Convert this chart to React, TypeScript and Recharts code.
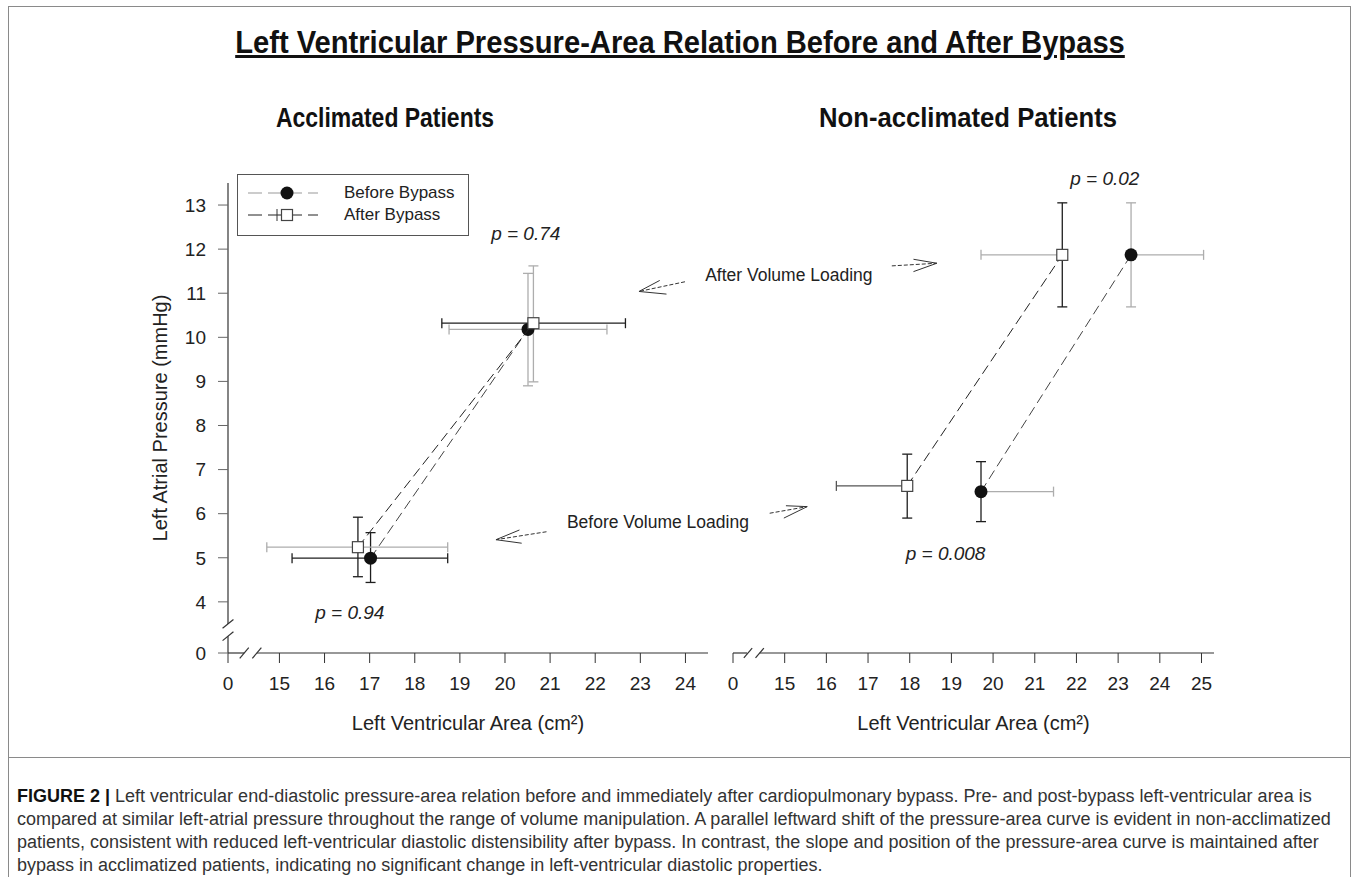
import React from "react";
import {
  ScatterChart,
  Scatter,
  XAxis,
  YAxis,
  ErrorBar,
  ReferenceLine,
  ReferenceDot,
  Legend,
} from "recharts";

// ---- data (left ventricular area cm², left atrial pressure mmHg) ----
// error arrays are [minus, plus]
const acclimatedBefore = [
  { area: 17.02, pressure: 4.99, areaErr: [1.74, 1.71], pressureErr: [0.55, 0.58] },
  { area: 20.51, pressure: 10.18, areaErr: [1.75, 1.75], pressureErr: [1.28, 1.27] },
];
const acclimatedAfter = [
  { area: 16.74, pressure: 5.24, areaErr: [2.02, 1.99], pressureErr: [0.67, 0.68] },
  { area: 20.63, pressure: 10.32, areaErr: [2.03, 2.04], pressureErr: [1.33, 1.3] },
];
const nonAcclimatedBefore = [
  { area: 19.71, pressure: 6.5, areaErr: [0, 1.74], pressureErr: [0.68, 0.68] },
  { area: 23.31, pressure: 11.87, areaErr: [0, 1.74], pressureErr: [1.18, 1.18] },
];
const nonAcclimatedAfter = [
  { area: 17.94, pressure: 6.63, areaErr: [1.7, 0], pressureErr: [0.73, 0.72] },
  { area: 21.66, pressure: 11.87, areaErr: [1.95, 0], pressureErr: [1.18, 1.18] },
];

const yTicks = [0, 4, 5, 6, 7, 8, 9, 10, 11, 12, 13];
const leftXTicks = [0, 15, 16, 17, 18, 19, 20, 21, 22, 23, 24];
const rightXTicks = [0, 15, 16, 17, 18, 19, 20, 21, 22, 23, 24, 25];

const leftPValues = [
  { text: "p = 0.74", area: 20.46, pressure: 12.37 },
  { text: "p = 0.94", area: 16.56, pressure: 3.77 },
];
const rightPValues = [
  { text: "p = 0.02", area: 22.68, pressure: 13.61 },
  { text: "p = 0.008", area: 18.86, pressure: 5.11 },
];
const leftNotes = [{ text: "Before Volume Loading", area: 23.39, pressure: 5.81 }];
const rightNotes = [{ text: "After Volume Loading", area: 15.1, pressure: 11.41 }];

// arrows: tail, tip, two barb ends  [area, pressure]
const leftArrows = [
  { tail: [23.99, 11.26], tip: [22.97, 11.04], barbs: [[23.43, 11.29], [23.58, 10.98]] },
  { tail: [20.92, 5.59], tip: [19.8, 5.41], barbs: [[20.32, 5.63], [20.37, 5.33]] },
];
const rightArrows = [
  { tail: [17.57, 11.62], tip: [18.65, 11.68], barbs: [[18.09, 11.77], [18.09, 11.49]] },
  { tail: [14.64, 6.01], tip: [15.54, 6.16], barbs: [[15.03, 6.18], [14.98, 5.9]] },
];

const legendItems = ["Before Bypass", "After Bypass"];

const captionLines = [
  "Left ventricular end-diastolic pressure-area relation before and immediately after cardiopulmonary bypass. Pre- and post-bypass left-ventricular area is",
  "compared at similar left-atrial pressure throughout the range of volume manipulation. A parallel leftward shift of the pressure-area curve is evident in non-acclimatized",
  "patients, consistent with reduced left-ventricular diastolic distensibility after bypass. In contrast, the slope and position of the pressure-area curve is maintained after",
  "bypass in acclimatized patients, indicating no significant change in left-ventricular diastolic properties.",
];

// ---- styles ----
const FONT = '"Liberation Sans", Arial, Helvetica, sans-serif';
const INK = "#222";
const AXIS = "#333";
const DARK = "#1e1e1e";
const MID = "#555";
const LIGHT = "#adadad";

// error bar colours per point  (x = horizontal bar, y = vertical bar)
const accBeforeBars = [{ x: DARK, y: DARK }, { x: LIGHT, y: LIGHT }];
const accAfterBars = [{ x: LIGHT, y: DARK }, { x: DARK, y: LIGHT }];
const nonBeforeBars = [{ x: LIGHT, y: DARK }, { x: LIGHT, y: LIGHT }];
const nonAfterBars = [{ x: MID, y: DARK }, { x: LIGHT, y: DARK }];

const Y_DOMAIN: [number, number] = [2.84, 13.5];
const LEFT_X: [number, number] = [13.86, 24.5];
const RIGHT_X: [number, number] = [13.76, 25.3];

const place = (t: number, zeroAt: number) => (t === 0 ? zeroAt : t);

const Dot = (p: any) => <circle cx={p.cx} cy={p.cy} r={6.5} fill="#111" />;
const Box = (p: any) => (
  <rect x={p.cx - 5.5} y={p.cy - 5.5} width={11} height={11} fill="#fff" stroke="#444" strokeWidth={1.2} />
);
const Nothing = () => <g />;

function errorSeries(points: any[], colors: { x: string; y: string }[], id: string) {
  return points.map((pt, i) => (
    <Scatter key={`${id}-${i}`} data={[pt]} shape={Nothing} legendType="none" isAnimationActive={false}>
      <ErrorBar dataKey="areaErr" direction="x" stroke={colors[i].x} strokeWidth={1.3} width={5} />
      <ErrorBar dataKey="pressureErr" direction="y" stroke={colors[i].y} strokeWidth={1.3} width={5} />
    </Scatter>
  ));
}

function seg(id: string, a: number[], b: number[], props: any = {}) {
  return (
    <ReferenceLine
      key={id}
      segment={[{ x: a[0], y: a[1] }, { x: b[0], y: b[1] }]}
      stroke={AXIS}
      strokeWidth={1.2}
      ifOverflow="visible"
      {...props}
    />
  );
}

function arrows(list: any[], id: string) {
  return list.flatMap((a, i) => [
    seg(`${id}-s${i}`, a.tail, a.tip, { strokeDasharray: "4 2", strokeWidth: 1 }),
    seg(`${id}-b${i}a`, a.tip, a.barbs[0], { strokeWidth: 1 }),
    seg(`${id}-b${i}b`, a.tip, a.barbs[1], { strokeWidth: 1 }),
  ]);
}

function labels(list: any[], id: string, italic: boolean) {
  return list.map((l, i) => (
    <ReferenceDot
      key={`${id}-${i}`}
      x={l.area}
      y={l.pressure}
      r={0}
      fill="none"
      stroke="none"
      ifOverflow="visible"
      label={{
        value: l.text,
        position: "center",
        fill: INK,
        fontSize: italic ? 19 : 17.5,
        fontStyle: italic ? "italic" : "normal",
        fontFamily: FONT,
      }}
    />
  ));
}

const tickStyle = { fontSize: 19, fill: INK, fontFamily: FONT };
const axisTitle = { fontSize: 20, fill: INK, fontFamily: FONT };

function LegendBox() {
  return (
    <div
      style={{
        width: 232,
        height: 62,
        boxSizing: "border-box",
        border: "1px solid #555",
        background: "#fff",
        fontFamily: FONT,
        fontSize: 17,
        color: INK,
        position: "relative",
      }}
    >
      {legendItems.map((name, i) => (
        <div key={name} style={{ position: "absolute", left: 0, top: 8 + i * 22, height: 20, width: 230 }}>
          <svg width={80} height={20} style={{ position: "absolute", left: 8, top: 0 }}>
            <line x1={2} y1={10} x2={72} y2={10} stroke={i === 0 ? "#999" : "#222"} strokeDasharray="14 6" />
            {i === 0 ? (
              <circle cx={41} cy={10} r={6.5} fill="#111" />
            ) : (
              <>
                <line x1={31} y1={4} x2={31} y2={16} stroke="#333" />
                <rect x={35.5} y={4.5} width={11} height={11} fill="#fff" stroke="#444" strokeWidth={1.2} />
              </>
            )}
          </svg>
          <span style={{ position: "absolute", left: 106, top: 0, lineHeight: "20px", whiteSpace: "nowrap" }}>{name}</span>
        </div>
      ))}
    </div>
  );
}

function Heading({ text, center, top, size, squeeze, underline }: any) {
  return (
    <div
      style={{
        position: "absolute",
        left: center,
        top,
        transform: `translateX(-50%) scaleX(${squeeze})`,
        fontSize: size,
        fontWeight: "bold",
        color: "#111",
        whiteSpace: "nowrap",
        textDecoration: underline ? "underline" : "none",
        lineHeight: 1.2,
      }}
    >
      {text}
    </div>
  );
}

export default function App() {
  const yPos = yTicks.map((t) => place(t, Y_DOMAIN[0]));
  const lxPos = leftXTicks.map((t) => place(t, LEFT_X[0]));
  const rxPos = rightXTicks.map((t) => place(t, RIGHT_X[0]));

  return (
    <div style={{ position: "absolute", left: 0, top: 0, width: 1358, height: 877, background: "#fff", fontFamily: FONT, overflow: "hidden" }}>
      {/* frame */}
      <div style={{ position: "absolute", left: 8, top: 6, width: 1343, height: 752, border: "1px solid #8a8a8a", boxSizing: "border-box" }} />
      <div style={{ position: "absolute", left: 8, top: 757, width: 1343, height: 120, borderLeft: "1px solid #8a8a8a", borderRight: "1px solid #8a8a8a", boxSizing: "border-box" }} />

      <Heading text="Left Ventricular Pressure-Area Relation Before and After Bypass" center={680} top={24} size={31} squeeze={0.94} underline />
      <Heading text="Acclimated Patients" center={385} top={102} size={27} squeeze={0.85} />
      <Heading text="Non-acclimated Patients" center={968} top={102} size={27} squeeze={0.95} />

      {/* left panel */}
      <div style={{ position: "absolute", left: 0, top: 0 }}>
        <ScatterChart width={760} height={800} margin={{ top: 183, right: 52, bottom: 7, left: 92 }}>
          <XAxis
            type="number"
            dataKey="area"
            domain={LEFT_X}
            allowDataOverflow
            ticks={lxPos}
            interval={0}
            tickFormatter={(v: number) => (v === LEFT_X[0] ? "0" : String(v))}
            axisLine={false}
            tickLine={{ stroke: AXIS }}
            tickSize={10}
            tickMargin={14}
            tick={tickStyle}
            height={140}
            label={{ value: "Left Ventricular Area (cm²)", position: "center", ...axisTitle }}
          />
          <YAxis
            type="number"
            dataKey="pressure"
            domain={Y_DOMAIN}
            allowDataOverflow
            ticks={yPos}
            interval={0}
            tickFormatter={(v: number) => (v === Y_DOMAIN[0] ? "0" : String(v))}
            axisLine={false}
            tickLine={{ stroke: "#666" }}
            tickSize={10}
            tickMargin={12}
            tick={tickStyle}
            width={136}
            label={{ value: "Left Atrial Pressure (mmHg)", angle: -90, position: "center", ...axisTitle }}
          />
          {/* broken axes */}
          {seg("ya", [LEFT_X[0], 13.5], [LEFT_X[0], 3.5])}
          {seg("yb", [LEFT_X[0], 3.22], [LEFT_X[0], Y_DOMAIN[0]])}
          {seg("ys1", [LEFT_X[0] - 0.12, 3.4], [LEFT_X[0] + 0.12, 3.6])}
          {seg("ys2", [LEFT_X[0] - 0.12, 3.12], [LEFT_X[0] + 0.12, 3.32])}
          {seg("xa", [LEFT_X[0], Y_DOMAIN[0]], [14.22, Y_DOMAIN[0]])}
          {seg("xb", [14.5, Y_DOMAIN[0]], [LEFT_X[1], Y_DOMAIN[0]])}
          {seg("xs1", [14.12, Y_DOMAIN[0] - 0.12], [14.32, Y_DOMAIN[0] + 0.12])}
          {seg("xs2", [14.4, Y_DOMAIN[0] - 0.12], [14.6, Y_DOMAIN[0] + 0.12])}

          {arrows(leftArrows, "la")}
          {errorSeries(acclimatedBefore, accBeforeBars, "ab")}
          {errorSeries(acclimatedAfter, accAfterBars, "aa")}
          <Scatter
            name="Before Bypass"
            data={acclimatedBefore}
            shape={Dot}
            line={{ stroke: "#444", strokeWidth: 1, strokeDasharray: "10 5" }}
            lineType="joint"
            legendType="none"
            isAnimationActive={false}
          />
          <Scatter
            name="After Bypass"
            data={acclimatedAfter}
            shape={Box}
            line={{ stroke: "#222", strokeWidth: 1, strokeDasharray: "10 5" }}
            lineType="joint"
            legendType="none"
            isAnimationActive={false}
          />
          {labels(leftPValues, "lp", true)}
          {labels(leftNotes, "ln", false)}
          <Legend
            layout="horizontal"
            verticalAlign="middle"
            align="center"
            content={() => <LegendBox />}
            wrapperStyle={{ position: "absolute", left: 237, top: 174, width: 232, height: 62 }}
          />
        </ScatterChart>
      </div>

      {/* right panel */}
      <div style={{ position: "absolute", left: 690, top: 0 }}>
        <ScatterChart width={540} height={800} margin={{ top: 183, right: 16, bottom: 7, left: 43 }}>
          <XAxis
            type="number"
            dataKey="area"
            domain={RIGHT_X}
            allowDataOverflow
            ticks={rxPos}
            interval={0}
            tickFormatter={(v: number) => (v === RIGHT_X[0] ? "0" : String(v))}
            axisLine={false}
            tickLine={{ stroke: AXIS }}
            tickSize={10}
            tickMargin={14}
            tick={tickStyle}
            height={140}
            label={{ value: "Left Ventricular Area (cm²)", position: "center", ...axisTitle }}
          />
          <YAxis type="number" dataKey="pressure" domain={Y_DOMAIN} allowDataOverflow hide />
          {seg("rxa", [RIGHT_X[0], Y_DOMAIN[0]], [14.1, Y_DOMAIN[0]])}
          {seg("rxb", [14.4, Y_DOMAIN[0]], [RIGHT_X[1], Y_DOMAIN[0]])}
          {seg("rxs1", [14.02, Y_DOMAIN[0] - 0.11], [14.22, Y_DOMAIN[0] + 0.11])}
          {seg("rxs2", [14.3, Y_DOMAIN[0] - 0.11], [14.5, Y_DOMAIN[0] + 0.11])}

          {arrows(rightArrows, "ra")}
          {errorSeries(nonAcclimatedBefore, nonBeforeBars, "nb")}
          {errorSeries(nonAcclimatedAfter, nonAfterBars, "na")}
          <Scatter
            name="Before Bypass"
            data={nonAcclimatedBefore}
            shape={Dot}
            line={{ stroke: "#444", strokeWidth: 1, strokeDasharray: "10 5" }}
            lineType="joint"
            legendType="none"
            isAnimationActive={false}
          />
          <Scatter
            name="After Bypass"
            data={nonAcclimatedAfter}
            shape={Box}
            line={{ stroke: "#222", strokeWidth: 1, strokeDasharray: "10 5" }}
            lineType="joint"
            legendType="none"
            isAnimationActive={false}
          />
          {labels(rightPValues, "rp", true)}
          {labels(rightNotes, "rn", false)}
        </ScatterChart>
      </div>

      {/* caption */}
      <div style={{ position: "absolute", left: 17, top: 785, fontSize: 18, lineHeight: "23px", color: "#333", whiteSpace: "nowrap" }}>
        {captionLines.map((line, i) => (
          <div key={i}>
            {i === 0 && <b style={{ color: "#111" }}>FIGURE 2 | </b>}
            {line}
          </div>
        ))}
      </div>
    </div>
  );
}
